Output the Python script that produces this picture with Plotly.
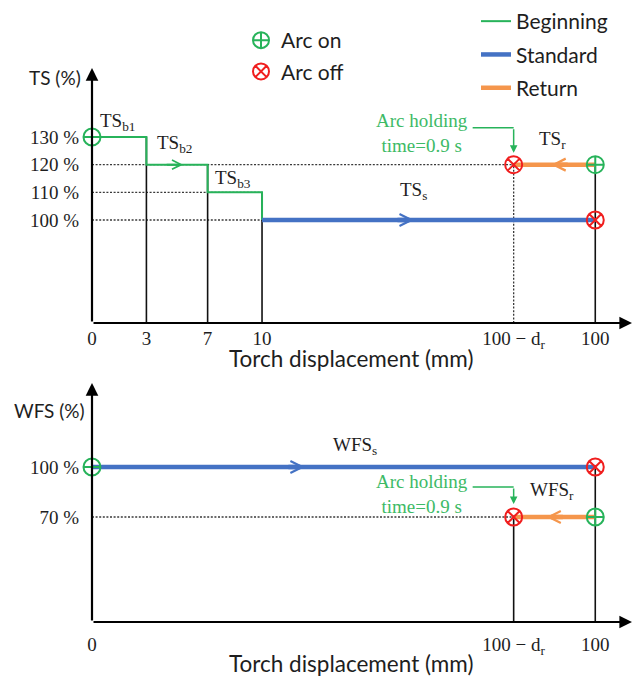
import plotly.graph_objects as go

# ---------------------------------------------------------------- data
# stations along the torch path; the axis is schematic (not to scale)
station_labels = ["0", "3", "7", "10", "100 − d<sub>r</sub>", "100"]
station_x = [0.0, 3.2, 6.8, 10.0, 24.8, 29.6]
X0, X3, X7, X10, XR, X100 = station_x
X_END = 31.76

ts_begin = [130, 120, 110]      # TS_b1, TS_b2, TS_b3 (%)
ts_standard = 100               # TS_s (%)
ts_return = 120                 # TS_r (%)
wfs_standard = 100              # WFS_s (%)
wfs_return = 70                 # WFS_r (%)

ts_ticks = [100, 110, 120, 130]
wfs_ticks = [70, 100]

# ---------------------------------------------------------------- style
W, H = 632, 678
GREEN = "#27B35A"
BLUE = "#4472C4"
ORANGE = "#F5964C"
RED = "#F01E1E"
INK = "#1E1E1E"
GUIDE = "#3A3A3A"
NOTE = "#3DBA66"
SERIF = "Liberation Serif"
SANS = "Lato"

TS_RANGE = [62.8, 154.9]
WFS_RANGE = [7.0, 150.4]

fig = go.Figure()


def line(x, y, color, width, dash="solid", panel=1, name=None, legend=None):
    xa, ya = ("x", "y") if panel == 1 else ("x2", "y2")
    fig.add_trace(go.Scatter(
        x=x, y=y, mode="lines", xaxis=xa, yaxis=ya, cliponaxis=False,
        line=dict(color=color, width=width, dash=dash),
        hoverinfo="skip", name=name, legend=legend,
        showlegend=name is not None))


def arc_marks(xs, ys, on, panel=1, name=None):
    xa, ya = ("x", "y") if panel == 1 else ("x2", "y2")
    fig.add_trace(go.Scatter(
        x=xs, y=ys, mode="markers", xaxis=xa, yaxis=ya, cliponaxis=False,
        marker=dict(symbol="circle-cross-open" if on else "circle-x-open",
                    size=17, color=GREEN if on else RED,
                    line=dict(width=2, color=GREEN if on else RED)),
        hoverinfo="skip", name=name, legend="legend",
        showlegend=name is not None))


def chevron(x0, x1, frac, y, color, width, size, panel=1):
    """Direction arrow sitting on a segment going from x0 to x1."""
    xr, yr = ("x", "y") if panel == 1 else ("x2", "y2")
    tip = x0 + frac * (x1 - x0)
    fig.add_annotation(x=tip, y=y, xref=xr, yref=yr, text="",
                       showarrow=True, ax=-18 if x1 > x0 else 18, ay=0,
                       arrowhead=5, arrowsize=size, arrowwidth=width,
                       arrowcolor=color)
    return tip


DOT = "2px,1.6px"

# ---------------------------------------------------------------- TS panel
b1, b2, b3 = ts_begin
line([X0, XR], [ts_return, ts_return], GUIDE, 1.3, DOT)
line([X0, X10], [b3, b3], GUIDE, 1.3, DOT)
line([X0, X10], [ts_standard, ts_standard], GUIDE, 1.3, DOT)
line([XR, XR], [TS_RANGE[0], ts_return], GUIDE, 1.3, DOT)
line([X3, X3], [TS_RANGE[0], b1], "#111", 1.6)
line([X7, X7], [TS_RANGE[0], b2], "#111", 1.6)
line([X10, X10], [TS_RANGE[0], b3], "#111", 1.6)
line([X100, X100], [TS_RANGE[0], ts_return], "#111", 1.6)

line([X0, X3, X3, X7, X7, X10, X10], [b1, b1, b2, b2, b3, b3, ts_standard],
     GREEN, 2, name="Beginning", legend="legend2")
line([X10, X100], [ts_standard, ts_standard], BLUE, 4.5,
     name="Standard", legend="legend2")
line([XR, X100], [ts_return, ts_return], ORANGE, 4.5,
     name="Return", legend="legend2")

arc_marks([X0, X100], [b1, ts_return], True, name="Arc on")
arc_marks([XR, X100], [ts_return, ts_standard], False, name="Arc off")

chevron(X3, X7, 0.6, b2, GREEN, 2, 0.9)
ts_s_tip = chevron(X10, X100, 0.456, ts_standard, BLUE, 4.5, 0.52)
ts_r_tip = chevron(X100, XR, 0.54, ts_return, ORANGE, 4.5, 0.52)

# ---------------------------------------------------------------- WFS panel
line([X0, XR], [wfs_return, wfs_return], GUIDE, 1.3, DOT, panel=2)
line([XR, XR], [WFS_RANGE[0], wfs_return], "#111", 1.6, panel=2)
line([X100, X100], [WFS_RANGE[0], wfs_standard], "#111", 1.6, panel=2)
line([X0, X100], [wfs_standard, wfs_standard], BLUE, 4.5, panel=2)
line([XR, X100], [wfs_return, wfs_return], ORANGE, 4.5, panel=2)
arc_marks([X0, X100], [wfs_standard, wfs_return], True, panel=2)
arc_marks([X100, XR], [wfs_standard, wfs_return], False, panel=2)

wfs_s_tip = chevron(X0, X100, 0.423, wfs_standard, BLUE, 4.5, 0.52, panel=2)
wfs_r_tip = chevron(X100, XR, 0.6, wfs_return, ORANGE, 4.5, 0.52, panel=2)

# ---------------------------------------------------------------- axes with arrows
for xr, yr, rng in (("x", "y", TS_RANGE), ("x2", "y2", WFS_RANGE)):
    fig.add_annotation(x=X0, y=rng[1], ax=X0, ay=rng[0], xref=xr, yref=yr,
                       axref=xr, ayref=yr, text="", showarrow=True,
                       arrowhead=2, arrowsize=1.15, arrowwidth=2.2,
                       arrowcolor="#000")
    fig.add_annotation(x=X_END, y=rng[0], ax=X0, ay=rng[0], xref=xr, yref=yr,
                       axref=xr, ayref=yr, text="", showarrow=True,
                       arrowhead=2, arrowsize=1.15, arrowwidth=2.2,
                       arrowcolor="#000")

# ---------------------------------------------------------------- labels
lab_font = dict(family=SERIF, size=19, color=INK)


def label(text, x, y, dx, dy, panel=1):
    xr, yr = ("x", "y") if panel == 1 else ("x2", "y2")
    fig.add_annotation(x=x, y=y, xref=xr, yref=yr, text=text, showarrow=False,
                       xanchor="left", yanchor="middle", xshift=dx, yshift=dy,
                       font=lab_font)


label("TS<sub>b1</sub>", X0, b1, 6, 15)
label("TS<sub>b2</sub>", X3, b2, 9, 21)
label("TS<sub>b3</sub>", X7, b3, 5, 13)
label("TS<sub>s</sub>", ts_s_tip, ts_standard, -16, 29)
label("TS<sub>r</sub>", ts_r_tip, ts_return, -14, 25)
label("WFS<sub>s</sub>", wfs_s_tip, wfs_standard, 26, 21, panel=2)
label("WFS<sub>r</sub>", wfs_r_tip, wfs_return, -18, 26, panel=2)

# arc holding notes with elbow connectors
for xr, yr, lvl, rise, stand, lift in (("x", "y", ts_return, 37, 12, 32),
                                       ("x2", "y2", wfs_return, 30, 13, 23)):
    fig.add_annotation(x=XR, y=lvl, xref=xr, yref=yr,
                       text="Arc holding<br>time=0.9 s", showarrow=False,
                       xanchor="right", yanchor="middle", align="center",
                       xshift=-44, yshift=lift,
                       font=dict(family=SERIF, size=19, color=NOTE))
    fig.add_shape(type="line", xref=xr, yref=yr,
                  xsizemode="pixel", xanchor=XR, x0=-41, x1=0,
                  ysizemode="pixel", yanchor=lvl, y0=rise, y1=rise,
                  line=dict(color=GREEN, width=1.5))
    fig.add_annotation(x=XR, y=lvl, xref=xr, yref=yr, text="",
                       showarrow=True, ax=0, ay=-rise, standoff=stand,
                       arrowhead=2, arrowsize=1.0, arrowwidth=1.5,
                       arrowcolor=GREEN)

# axis titles
title_font = dict(family=SANS, size=19, color=INK)
fig.add_annotation(x=83 / W, y=1 - 77 / H, xref="paper", yref="paper",
                   text="TS (%)", showarrow=False, xanchor="right",
                   yanchor="middle", font=title_font)
fig.add_annotation(x=87 / W, y=1 - 410 / H, xref="paper", yref="paper",
                   text="WFS (%)", showarrow=False, xanchor="right",
                   yanchor="middle", font=title_font)
for yy in (358, 663):
    fig.add_annotation(x=351 / W, y=1 - yy / H, xref="paper", yref="paper",
                       text="Torch displacement (mm)", showarrow=False,
                       xanchor="center", yanchor="middle",
                       font=dict(family=SANS, size=22.5, color=INK))

# ---------------------------------------------------------------- layout
tick_font = dict(family=SERIF, size=19, color=INK)
common = dict(showgrid=False, zeroline=False, showline=False, ticks="",
              tickfont=tick_font, fixedrange=True, automargin=False)

x_dom = [92 / W, 1.0]
leg_font = dict(family=SANS, size=21, color=INK)
fig.update_layout(
    width=W, height=H, margin=dict(l=0, r=0, t=0, b=0),
    paper_bgcolor="white", plot_bgcolor="white",
    xaxis=dict(domain=x_dom, range=[0, X_END], anchor="y",
               tickvals=station_x, ticktext=station_labels,
               ticklabelstandoff=2, **common),
    yaxis=dict(domain=[1 - 323 / H, 1 - 68 / H], range=TS_RANGE, anchor="x",
               tickvals=ts_ticks, ticktext=[f"{v} %" for v in ts_ticks],
               ticklabelstandoff=12, **common),
    xaxis2=dict(domain=x_dom, range=[0, X_END], anchor="y2",
                tickvals=[X0, XR, X100],
                ticktext=[station_labels[0], station_labels[4], station_labels[5]],
                ticklabelstandoff=9, **common),
    yaxis2=dict(domain=[1 - 622 / H, 1 - 383 / H], range=WFS_RANGE, anchor="x2",
                tickvals=wfs_ticks, ticktext=[f"{v} %" for v in wfs_ticks],
                ticklabelstandoff=12, **common),
    legend=dict(x=241 / W, y=1 - 20 / H, xanchor="left", yanchor="top",
                bgcolor="rgba(0,0,0,0)", font=leg_font,
                tracegroupgap=1, traceorder="grouped"),
    legend2=dict(x=476 / W, y=1 - 1 / H, xanchor="left", yanchor="top",
                 bgcolor="rgba(0,0,0,0)", font=leg_font,
                 tracegroupgap=3, traceorder="grouped"),
    showlegend=True,
)

# every legend entry in its own group so tracegroupgap spaces the rows
for i, tr in enumerate(fig.data):
    if tr.showlegend:
        tr.legendgroup = f"g{i}"

fig.write_html("out.html")
